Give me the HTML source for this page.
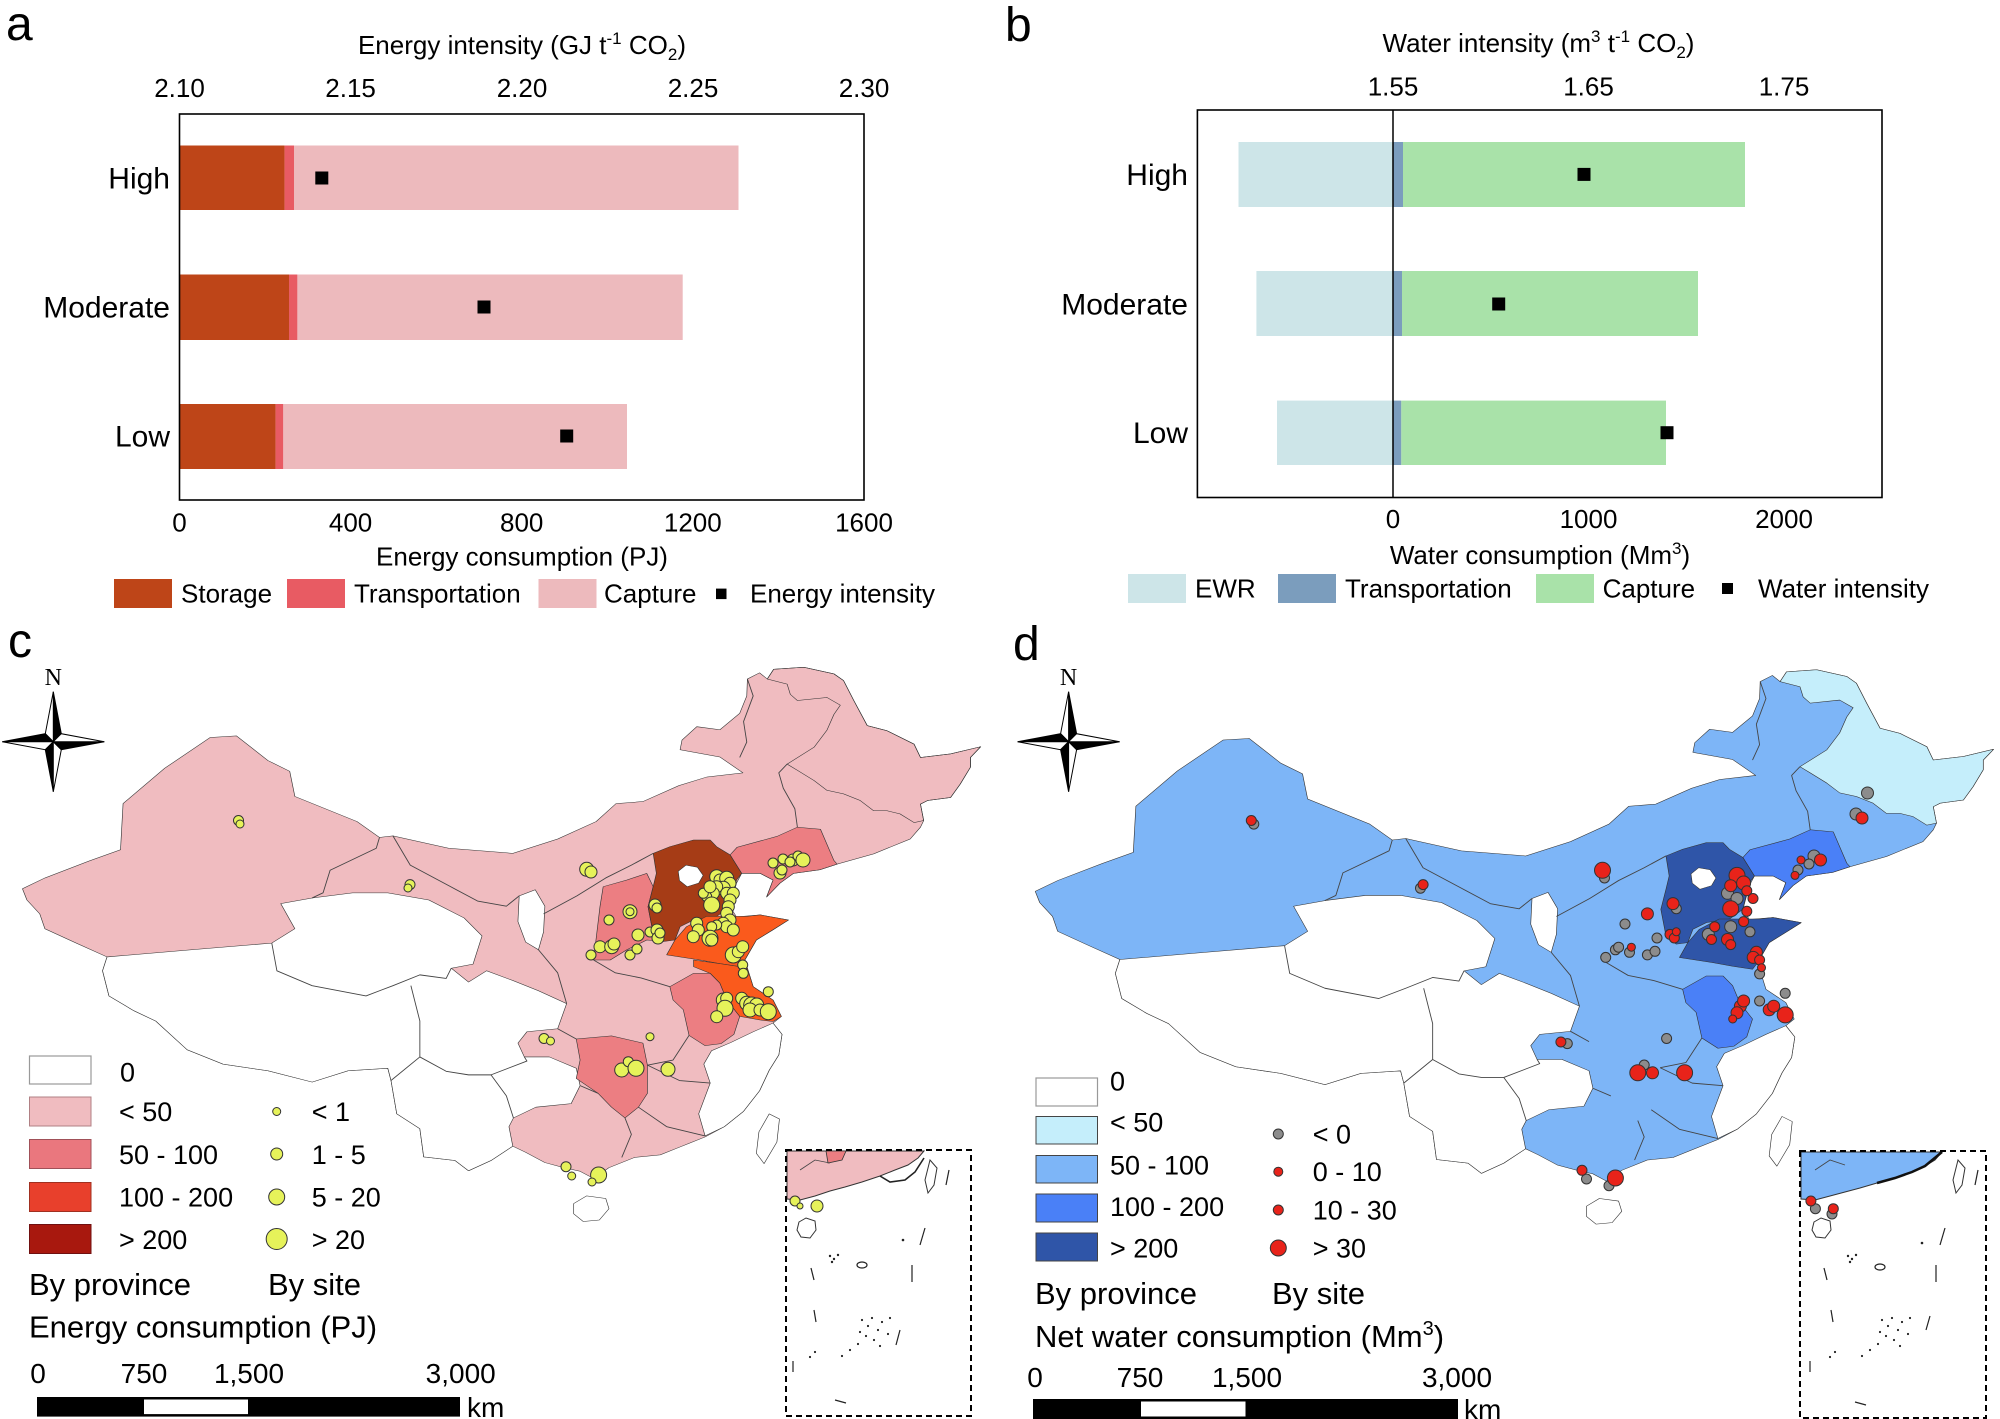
<!DOCTYPE html>
<html><head><meta charset="utf-8"><style>
html,body{margin:0;padding:0;background:#fff;}
svg{display:block;font-family:"Liberation Sans",Arial,sans-serif;}
</style></head><body>
<svg width="2000" height="1419" viewBox="0 0 2000 1419" xmlns="http://www.w3.org/2000/svg">
<rect width="2000" height="1419" fill="#fff"/>
<!-- ================= PANEL A ================= -->
<text x="6" y="40" font-size="48">a</text>
<text x="522" y="54" font-size="26" text-anchor="middle">Energy intensity (GJ t<tspan dy="-10" font-size="17">-1</tspan><tspan dy="10"> CO</tspan><tspan dy="6" font-size="17">2</tspan><tspan dy="-6">)</tspan></text>
<g font-size="26" text-anchor="middle">
<text x="179.5" y="97">2.10</text><text x="350.6" y="97">2.15</text><text x="522" y="97">2.20</text><text x="693" y="97">2.25</text><text x="864" y="97">2.30</text>
<text x="179.5" y="531.5">0</text><text x="350.6" y="531.5">400</text><text x="521.7" y="531.5">800</text><text x="692.8" y="531.5">1200</text><text x="864" y="531.5">1600</text>
<text x="522" y="565.5">Energy consumption (PJ)</text>
</g>
<rect x="179.5" y="145.5" width="105.1" height="64.5" fill="#BE4518"/>
<rect x="284.6" y="145.5" width="9.4" height="64.5" fill="#E85B63"/>
<rect x="294" y="145.5" width="444.5" height="64.5" fill="#EDBABD"/>
<rect x="179.5" y="274.5" width="109.5" height="65.5" fill="#BE4518"/>
<rect x="289" y="274.5" width="8.4" height="65.5" fill="#E85B63"/>
<rect x="297.4" y="274.5" width="385.3" height="65.5" fill="#EDBABD"/>
<rect x="179.5" y="404" width="96.1" height="65" fill="#BE4518"/>
<rect x="275.6" y="404" width="7.7" height="65" fill="#E85B63"/>
<rect x="283.3" y="404" width="343.7" height="65" fill="#EDBABD"/>
<rect x="315.3" y="171.5" width="13" height="13" fill="#000"/>
<rect x="477.5" y="300.5" width="13" height="13" fill="#000"/>
<rect x="560.2" y="429.5" width="13" height="13" fill="#000"/>
<rect x="179.5" y="114" width="684.5" height="386" fill="none" stroke="#000" stroke-width="1.6"/>
<g font-size="30" text-anchor="end">
<text x="170" y="188.5">High</text><text x="170" y="317.5">Moderate</text><text x="170" y="446.5">Low</text>
</g>
<g font-size="26">
<rect x="114" y="579" width="58" height="29" fill="#BE4518"/><text x="181" y="602.6">Storage</text>
<rect x="287" y="579" width="58" height="29" fill="#E85B63"/><text x="354" y="602.6">Transportation</text>
<rect x="538.5" y="579" width="58" height="29" fill="#EDBABD"/><text x="604" y="602.6">Capture</text>
<rect x="716" y="588.6" width="10.5" height="10.5" fill="#000"/><text x="750" y="602.6">Energy intensity</text>
</g>

<!-- ================= PANEL B ================= -->
<text x="1005" y="41" font-size="48">b</text>
<text x="1538.5" y="52" font-size="26" text-anchor="middle">Water intensity (m<tspan dy="-10" font-size="17">3</tspan><tspan dy="10"> t</tspan><tspan dy="-10" font-size="17">-1</tspan><tspan dy="10"> CO</tspan><tspan dy="6" font-size="17">2</tspan><tspan dy="-6">)</tspan></text>
<g font-size="26" text-anchor="middle">
<text x="1393" y="95.5">1.55</text><text x="1588.5" y="95.5">1.65</text><text x="1784" y="95.5">1.75</text>
<text x="1393" y="528">0</text><text x="1588.5" y="528">1000</text><text x="1784" y="528">2000</text>
<text x="1540" y="564">Water consumption (Mm<tspan dy="-10" font-size="17">3</tspan><tspan dy="10">)</tspan></text>
</g>
<rect x="1238.5" y="142" width="154.5" height="65" fill="#CDE5E8"/>
<rect x="1393" y="142" width="10" height="65" fill="#7B9DBD"/>
<rect x="1403" y="142" width="342" height="65" fill="#A9E2A9"/>
<rect x="1256.4" y="271" width="136.6" height="65" fill="#CDE5E8"/>
<rect x="1393" y="271" width="9" height="65" fill="#7B9DBD"/>
<rect x="1402" y="271" width="296" height="65" fill="#A9E2A9"/>
<rect x="1277" y="400.6" width="116" height="64.4" fill="#CDE5E8"/>
<rect x="1393" y="400.6" width="8.3" height="64.4" fill="#7B9DBD"/>
<rect x="1401.3" y="400.6" width="264.7" height="64.4" fill="#A9E2A9"/>
<rect x="1577.5" y="167.9" width="13" height="13" fill="#000"/>
<rect x="1492.2" y="297.5" width="13" height="13" fill="#000"/>
<rect x="1660.5" y="426.2" width="13" height="13" fill="#000"/>
<line x1="1393" y1="110" x2="1393" y2="497.5" stroke="#000" stroke-width="1.5"/>
<rect x="1197.4" y="110" width="684.6" height="387.5" fill="none" stroke="#000" stroke-width="1.6"/>
<g font-size="30" text-anchor="end">
<text x="1188" y="185">High</text><text x="1188" y="314.5">Moderate</text><text x="1188" y="443">Low</text>
</g>
<g font-size="26">
<rect x="1128" y="574" width="58" height="29" fill="#CDE5E8"/><text x="1195" y="597.5">EWR</text>
<rect x="1278" y="574" width="58" height="29" fill="#7B9DBD"/><text x="1345" y="597.5">Transportation</text>
<rect x="1536" y="574" width="58" height="29" fill="#A9E2A9"/><text x="1602.6" y="597.5">Capture</text>
<rect x="1722" y="583" width="11" height="11" fill="#000"/><text x="1758" y="597.5">Water intensity</text>
</g>

<!-- ================= MAP DEFINITIONS ================= -->
<defs>
<path id="outer" d="M35,526 L70,505 L139,472 L188,450 L192,360 L257,291 L328,231 L369,228 L418,276 L452,297 L460,346 L557,395 L592,426 L613,423 L700,447 L800,457 L870,429 L930,395 L961,360 L1003,356 L1059,325 L1103,308 L1159,300 L1123,269 L1061,255 L1064,236 L1087,210 L1123,216 L1154,184 L1165,150 L1166,117 L1185,105 L1197,117 L1207,98 L1254,94 L1301,107 L1316,120 L1332,159 L1353,208 L1384,218 L1426,244 L1436,270 L1483,263 L1530,249 L1514,270 L1514,289 L1498,322 L1483,348 L1447,354 L1436,361 L1441,393 L1436,406 L1420,429 L1363,458 L1306,478 L1279,489 L1238,496 L1217,515 L1196,542 L1206,509 L1186,496 L1157,496 L1149,515 L1139,561 L1149,581 L1186,577 L1230,587 L1206,606 L1180,626 L1162,665 L1175,717 L1206,743 L1219,775 L1206,788 L1220,810 L1215,850 L1200,880 L1185,920 L1160,960 L1130,990 L1100,1010 L1060,1030 L1030,1045 L990,1050 L950,1070 L926,1091 L905,1077 L880,1070 L850,1060 L820,1040 L800,1028 L766,1056 L731,1076 L710,1056 L661,1049 L655,994 L619,965 L610,900 L605,876 L543,881 L487,903 L418,881 L348,868 L292,840 L243,784 L209,764 L170,735 L160,686 L167,659 L119,632 L70,604 L62,575 L42,548 Z"/>
<path id="whiteSW" d="M160,686 L167,659 L299,645 L424,632 L460,604 L438,555 L487,544 L550,534 L605,534 L669,548 L724,583 L752,618 L738,673 L704,681 L731,708 L759,686 L800,705 L840,725 L884,750 L870,799 L822,805 L808,827 L818,854 L857,854 L899,876 L905,910 L891,945 L836,952 L801,973 L794,990 L800,1028 L766,1056 L731,1076 L710,1056 L661,1049 L655,994 L619,965 L610,900 L605,876 L543,881 L487,903 L418,881 L348,868 L292,840 L243,784 L209,764 L170,735 Z"/>
<path id="whiteSE" d="M1110,842 L1140,826 L1175,805 L1206,788 L1220,810 L1215,850 L1200,880 L1185,920 L1160,960 L1130,990 L1100,1008 L1090,965 L1108,905 L1098,868 Z"/>
<path id="ningxia" d="M810,540 L835,528 L850,560 L848,610 L840,645 L820,630 L808,590 Z"/>
<path id="beijing" d="M1058,492 L1070,480 L1088,484 L1097,500 L1090,515 L1072,522 L1060,510 Z"/>
<path id="hainan" d="M895,1140 L915,1125 L945,1130 L950,1150 L935,1172 L910,1175 L895,1160 Z"/>
<path id="taiwan" d="M1200,965 L1216,975 L1212,1020 L1192,1062 L1180,1042 L1184,1000 Z"/>
<path id="hebei" d="M1019,457 L1045,444 L1082,431 L1108,431 L1118,444 L1139,460 L1157,496 L1149,509 L1144,535 L1139,561 L1118,580 L1082,587 L1061,600 L1053,626 L1035,629 L1019,613 L1011,561 L1019,522 L1024,496 Z"/>
<path id="shanxi" d="M1009,496 L978,509 L941,522 L936,561 L931,613 L926,665 L952,665 L978,645 L1009,626 L1035,629 L1019,613 L1011,561 L1019,522 Z"/>
<path id="shandong" d="M1053,626 L1071,600 L1102,580 L1165,580 L1186,577 L1230,587 L1206,606 L1180,626 L1162,665 L1154,678 L1123,672 L1092,665 L1040,655 Z"/>
<path id="jiangsu" d="M1082,665 L1123,672 L1154,678 L1162,665 L1175,717 L1206,743 L1219,775 L1206,785 L1186,782 L1154,775 L1134,743 L1123,710 L1108,691 L1082,678 Z"/>
<path id="anhui" d="M1045,717 L1082,691 L1108,691 L1123,710 L1134,743 L1154,775 L1145,810 L1125,828 L1100,832 L1075,812 L1066,762 L1050,743 Z"/>
<path id="liaoning" d="M1139,460 L1150,445 L1212,424 L1244,406 L1280,410 L1301,471 L1306,478 L1279,489 L1238,496 L1217,515 L1196,542 L1206,509 L1186,496 L1157,496 Z"/>
<path id="hunan" d="M899,819 L954,813 L1003,827 L1010,870 L1010,925 L996,952 L975,973 L954,952 L933,925 L899,896 L905,860 Z"/>
<path id="heilong" d="M1197,117 L1207,98 L1254,94 L1301,107 L1316,120 L1332,159 L1353,208 L1384,218 L1426,244 L1436,270 L1483,263 L1530,249 L1514,270 L1514,289 L1498,322 L1483,348 L1447,354 L1436,361 L1441,393 L1426,397 L1404,380 L1384,374 L1363,374 L1342,354 L1316,341 L1290,334 L1270,315 L1244,295 L1228,283 L1270,250 L1290,217 L1301,186 L1311,168 L1290,153 L1244,159 L1233,147 L1228,127 Z"/>
<g id="lines" fill="none" stroke="#444" stroke-width="0.9">
<polyline vector-effect="non-scaling-stroke" points="592,426 587,447 515,490 504,534 487,544"/>
<polyline vector-effect="non-scaling-stroke" points="613,423 640,480 700,520 745,550 790,560 810,540"/>
<polyline vector-effect="non-scaling-stroke" points="848,575 900,540 945,505 985,480 1019,457"/>
<polyline vector-effect="non-scaling-stroke" points="840,645 870,690 884,750"/>
<polyline vector-effect="non-scaling-stroke" points="926,665 960,690 1000,700 1045,717"/>
<polyline vector-effect="non-scaling-stroke" points="870,799 899,819"/>
<polyline vector-effect="non-scaling-stroke" points="1166,117 1175,150 1160,200 1165,240 1154,270"/>
<polyline vector-effect="non-scaling-stroke" points="1228,283 1215,300 1222,330 1240,370 1244,406"/>
<polyline vector-effect="non-scaling-stroke" points="1010,870 1050,860 1075,812"/>
<polyline vector-effect="non-scaling-stroke" points="975,973 985,1005 970,1050"/>
<polyline vector-effect="non-scaling-stroke" points="996,952 1040,990 1100,1008"/>
<polyline vector-effect="non-scaling-stroke" points="905,910 933,925"/>
<polyline vector-effect="non-scaling-stroke" points="424,632 432,686 487,715 571,735 613,715 655,694 696,701 704,681"/>
<polyline vector-effect="non-scaling-stroke" points="641,715 655,784 655,854 610,900"/>
<polyline vector-effect="non-scaling-stroke" points="655,854 696,882 731,889 766,889 822,862 818,854"/>
<polyline vector-effect="non-scaling-stroke" points="766,889 790,930 801,973"/>
<polyline vector-effect="non-scaling-stroke" points="1108,905 1060,900 1010,870"/>
</g>
</defs>

<!-- ================= MAP C ================= -->
<text x="8" y="657" font-size="48">c</text>
<g transform="translate(0,619) scale(0.641,0.5128)" stroke="#333" stroke-width="1" stroke-linejoin="round">
<use href="#outer" fill="#F0BCC0"/>
<g fill="#fff" stroke="#333">
<use href="#whiteSW"/><use href="#whiteSE"/><use href="#ningxia"/><use href="#hainan"/><use href="#taiwan"/>
</g>
<use href="#shanxi" fill="#EC7E82"/>
<use href="#liaoning" fill="#EC7E82"/>
<use href="#anhui" fill="#EC7E82"/>
<use href="#hunan" fill="#EC7E82"/>
<use href="#hebei" fill="#A63C16"/>
<use href="#shandong" fill="#FA5A1C"/>
<use href="#jiangsu" fill="#FA5A1C"/>
<use href="#beijing" fill="#fff"/>
<use href="#heilong" fill="none"/>
<use href="#lines"/>
</g>
<g transform="translate(53.3,741.7)" stroke="#000" stroke-width="1">
<polygon points="0,-50 8,-8 0,0" fill="#000"/><polygon points="0,-50 -8,-8 0,0" fill="#fff"/>
<polygon points="-51,0 -8,-8 0,0" fill="#000"/><polygon points="-51,0 -8,8 0,0" fill="#fff"/>
<polygon points="0,50 -8,8 0,0" fill="#000"/><polygon points="0,50 8,8 0,0" fill="#fff"/>
<polygon points="51,0 8,8 0,0" fill="#000"/><polygon points="51,0 8,-8 0,0" fill="#fff"/>
</g>
<text x="53.3" y="685" font-size="24" text-anchor="middle" font-family="Liberation Serif,serif">N</text>
<g fill="#E6F25A" stroke="#333" stroke-width="1">
<circle cx="238.5" cy="820.5" r="5"/><circle cx="240" cy="824" r="4"/>
<circle cx="410" cy="884.6" r="5"/><circle cx="408" cy="888" r="4"/>
<circle cx="586.7" cy="869.3" r="7"/><circle cx="591" cy="872" r="6"/>
<circle cx="630" cy="911.7" r="7"/><circle cx="630" cy="911.7" r="4"/>
<circle cx="609" cy="920" r="5"/>
<circle cx="600" cy="946.7" r="6"/><circle cx="611.7" cy="946.7" r="7"/><circle cx="614" cy="944" r="6"/>
<circle cx="591" cy="955" r="5"/><circle cx="630" cy="955" r="5"/><circle cx="637" cy="949" r="5"/>
<circle cx="638" cy="935" r="6"/><circle cx="655" cy="905" r="6"/><circle cx="657" cy="908" r="5"/>
<circle cx="650" cy="932" r="5"/><circle cx="657" cy="930" r="6"/><circle cx="658" cy="938" r="6"/><circle cx="660" cy="933" r="5"/>
<circle cx="773" cy="863" r="5"/><circle cx="783" cy="859" r="5"/><circle cx="793" cy="860" r="6"/><circle cx="798" cy="856" r="5"/><circle cx="803" cy="860" r="7"/><circle cx="790" cy="862" r="5"/><circle cx="780" cy="873" r="6"/><circle cx="782" cy="870" r="5"/>
<circle cx="716.7" cy="876.7" r="7"/><circle cx="720" cy="880" r="6"/><circle cx="726.7" cy="878.3" r="7"/><circle cx="730" cy="883.3" r="6"/><circle cx="723.3" cy="888.3" r="7"/><circle cx="716.7" cy="886.7" r="6"/><circle cx="713.3" cy="893.3" r="6"/><circle cx="706.7" cy="896.7" r="5"/><circle cx="703.3" cy="893.3" r="5"/><circle cx="710" cy="886.7" r="6"/><circle cx="726.7" cy="893.3" r="6"/><circle cx="733.3" cy="893.3" r="6"/><circle cx="730" cy="900" r="6"/><circle cx="711.7" cy="905" r="8"/><circle cx="728.3" cy="906.7" r="6"/>
<circle cx="726.7" cy="913.3" r="6"/><circle cx="730" cy="920" r="6"/><circle cx="723.3" cy="923.3" r="6"/><circle cx="726.7" cy="926.7" r="6"/><circle cx="733.3" cy="930" r="6"/><circle cx="716.7" cy="925" r="5"/><circle cx="711.7" cy="926.7" r="5"/><circle cx="696.7" cy="923.3" r="6"/><circle cx="698.3" cy="930" r="6"/><circle cx="693.3" cy="936.7" r="6"/><circle cx="710" cy="938.3" r="8"/><circle cx="711.7" cy="940" r="6"/>
<circle cx="733.3" cy="955" r="8"/><circle cx="738.3" cy="951.7" r="6"/><circle cx="742.7" cy="946.7" r="6"/>
<circle cx="742.7" cy="965" r="5"/><circle cx="743.3" cy="973.3" r="5"/><circle cx="768.3" cy="991.7" r="5"/>
<circle cx="723.3" cy="1000" r="7"/><circle cx="726.7" cy="998.3" r="6"/><circle cx="725" cy="1008.3" r="8"/><circle cx="716.7" cy="1016.7" r="6"/><circle cx="741.7" cy="998.3" r="6"/><circle cx="746.7" cy="1003.3" r="7"/><circle cx="751.7" cy="1005" r="8"/><circle cx="756.7" cy="1005" r="7"/><circle cx="750" cy="1010" r="7"/><circle cx="760" cy="1010" r="6"/><circle cx="768.3" cy="1011.7" r="8"/>
<circle cx="650" cy="1036.7" r="4"/>
<circle cx="621.7" cy="1070" r="7"/><circle cx="628.3" cy="1061.7" r="5"/><circle cx="636" cy="1068.3" r="8"/><circle cx="668" cy="1069.3" r="7"/>
<circle cx="544" cy="1038.5" r="5"/><circle cx="550.5" cy="1041" r="4"/>
<circle cx="566" cy="1166.7" r="5"/><circle cx="571.7" cy="1176" r="4"/><circle cx="598.6" cy="1175" r="8"/><circle cx="592" cy="1182" r="4"/>
</g>
<!-- inset c -->
<g>
<polygon points="787,1151 924,1151 918,1158 908,1165 895,1170 880,1176 862,1182 845,1187 830,1191 815,1196 800,1200 787,1199" fill="#F0BCC0" stroke="#333" stroke-width="1"/>
<polygon points="826,1151 846,1151 842,1160 828,1163" fill="#EC7E82" stroke="#333" stroke-width="0.8"/>
<polyline points="800,1170 815,1160 830,1163" fill="none" stroke="#444" stroke-width="0.8"/>
<polyline points="880,1176 890,1182 905,1180 915,1172 924,1158" fill="none" stroke="#222" stroke-width="1.6"/>
<path d="M799,1222 L806,1218 L815,1221 L816,1230 L810,1238 L801,1237 L797,1230 Z" fill="#fff" stroke="#333" stroke-width="1"/>
<path d="M930,1160 L937,1168 L934,1185 L928,1193 L925,1180 Z" fill="#fff" stroke="#333" stroke-width="1"/>
<g fill="#E6F25A" stroke="#333" stroke-width="1"><circle cx="795" cy="1201" r="5"/><circle cx="800" cy="1206" r="3"/><circle cx="817" cy="1206" r="6"/></g>
<g stroke="#222" stroke-width="1.2" fill="none">
<line x1="949" y1="1170" x2="946" y2="1185"/><line x1="925" y1="1228" x2="920" y2="1245"/><line x1="912" y1="1265" x2="912" y2="1282"/>
<line x1="811" y1="1268" x2="814" y2="1280"/><line x1="814" y1="1310" x2="816" y2="1322"/><line x1="793" y1="1361" x2="793" y2="1372"/>
<line x1="835" y1="1400" x2="846" y2="1403"/><line x1="900" y1="1330" x2="896" y2="1345"/>
<ellipse cx="862" cy="1265" rx="5" ry="3"/>
</g>
<g fill="#222">
<circle cx="830" cy="1256" r="1.2"/><circle cx="834" cy="1259" r="1.2"/><circle cx="838" cy="1255" r="1.2"/><circle cx="832" cy="1262" r="1.2"/>
<circle cx="862" cy="1320" r="1.1"/><circle cx="868" cy="1326" r="1.1"/><circle cx="872" cy="1318" r="1.1"/><circle cx="878" cy="1330" r="1.1"/><circle cx="882" cy="1322" r="1.1"/><circle cx="888" cy="1334" r="1.1"/><circle cx="866" cy="1336" r="1.1"/><circle cx="874" cy="1340" r="1.1"/><circle cx="858" cy="1344" r="1.1"/><circle cx="850" cy="1350" r="1.1"/><circle cx="842" cy="1356" r="1.1"/><circle cx="890" cy="1318" r="1.1"/><circle cx="860" cy="1332" r="1.1"/><circle cx="880" cy="1346" r="1.1"/><circle cx="810" cy="1357" r="1.1"/><circle cx="815" cy="1352" r="1.1"/><circle cx="903" cy="1240" r="1.3"/>
</g>
<rect x="786" y="1150" width="185" height="266" fill="none" stroke="#000" stroke-width="2" stroke-dasharray="6,4"/>
</g>
<g font-size="27">
<rect x="29.5" y="1056" width="61.5" height="28" fill="#fff" stroke="#999" stroke-width="1.2"/><text x="120" y="1081.5">0</text>
<rect x="29.5" y="1097" width="61.5" height="29" fill="#F0BCC0" stroke="#B08084" stroke-width="1"/><text x="119" y="1121">&lt; 50</text>
<rect x="29.5" y="1139.5" width="61.5" height="29" fill="#EA777E" stroke="#A05058" stroke-width="1"/><text x="119" y="1164">50 - 100</text>
<rect x="29.5" y="1182.5" width="61.5" height="29" fill="#E8402C" stroke="#A03020" stroke-width="1"/><text x="119" y="1206.5">100 - 200</text>
<rect x="29.5" y="1224.5" width="61.5" height="29" fill="#A8180E" stroke="#701010" stroke-width="1"/><text x="119" y="1249">&gt; 200</text>
<g fill="#E6F25A" stroke="#333" stroke-width="1"><circle cx="276.7" cy="1111.5" r="4"/><circle cx="276.7" cy="1154" r="6"/><circle cx="276.7" cy="1197" r="8"/><circle cx="276.7" cy="1239" r="10.5"/></g>
<text x="311.7" y="1121">&lt; 1</text><text x="311.7" y="1164">1 - 5</text><text x="311.7" y="1206.5">5 - 20</text><text x="311.7" y="1249">&gt; 20</text>
</g>
<g font-size="31"><text x="29" y="1295">By province</text><text x="268" y="1295">By site</text><text x="29" y="1337.5">Energy consumption (PJ)</text></g>
<g font-size="28" text-anchor="middle"><text x="38" y="1383">0</text><text x="144" y="1383">750</text><text x="249" y="1383">1,500</text><text x="460.7" y="1383">3,000</text></g>
<rect x="37" y="1397" width="423" height="19.6" fill="#000"/><rect x="144" y="1399.5" width="104" height="14.6" fill="#fff"/>
<text x="467" y="1417" font-size="28">km</text>

<!-- ================= MAP D ================= -->
<text x="1013" y="660" font-size="48">d</text>
<g transform="translate(1012.8,621.6) scale(0.641,0.5128)" stroke="#333" stroke-width="1" stroke-linejoin="round">
<use href="#outer" fill="#7DB5F7"/>
<g fill="#fff" stroke="#333">
<use href="#whiteSW"/><use href="#whiteSE"/><use href="#ningxia"/><use href="#hainan"/><use href="#taiwan"/>
</g>
<use href="#heilong" fill="#C5EEFB"/>
<use href="#liaoning" fill="#4A80F7"/>
<use href="#anhui" fill="#4A80F7"/>
<use href="#hebei" fill="#2F55A8"/>
<use href="#shandong" fill="#2F55A8"/>
<use href="#beijing" fill="#fff"/>
<use href="#lines"/>
</g>
<g transform="translate(1068.6,741.7)" stroke="#000" stroke-width="1">
<polygon points="0,-50 8,-8 0,0" fill="#000"/><polygon points="0,-50 -8,-8 0,0" fill="#fff"/>
<polygon points="-51,0 -8,-8 0,0" fill="#000"/><polygon points="-51,0 -8,8 0,0" fill="#fff"/>
<polygon points="0,50 -8,8 0,0" fill="#000"/><polygon points="0,50 8,8 0,0" fill="#fff"/>
<polygon points="51,0 8,8 0,0" fill="#000"/><polygon points="51,0 8,-8 0,0" fill="#fff"/>
</g>
<text x="1068.6" y="685" font-size="24" text-anchor="middle" font-family="Liberation Serif,serif">N</text>
<g stroke="#333" stroke-width="1">
<g fill="#8C8C8C">
<circle cx="1253.8" cy="824.1" r="5"/><circle cx="1420.5" cy="888.2" r="5"/><circle cx="1604.5" cy="878" r="5"/>
<circle cx="1867.5" cy="793" r="6"/><circle cx="1856" cy="814" r="6"/>
<circle cx="1814" cy="856" r="6"/><circle cx="1809" cy="864" r="5"/><circle cx="1798" cy="870" r="5"/>
<circle cx="1727.5" cy="893.3" r="6"/><circle cx="1737" cy="898.5" r="6"/><circle cx="1730.7" cy="926.7" r="6"/><circle cx="1750" cy="931.8" r="5"/><circle cx="1708.3" cy="934.4" r="6"/>
<circle cx="1676.3" cy="908.7" r="5"/><circle cx="1625" cy="924" r="5"/><circle cx="1657" cy="938" r="5"/>
<circle cx="1615.4" cy="949.8" r="5"/><circle cx="1618.6" cy="947.2" r="5"/><circle cx="1629.5" cy="952.3" r="5"/><circle cx="1647.4" cy="954.9" r="5"/><circle cx="1655" cy="951.3" r="5"/><circle cx="1605.7" cy="957.4" r="5"/>
<circle cx="1759.6" cy="973.9" r="5"/><circle cx="1759.6" cy="1001" r="5"/><circle cx="1785.2" cy="993.3" r="5"/>
<circle cx="1567.3" cy="1043.6" r="5"/><circle cx="1666.6" cy="1038.5" r="5"/><circle cx="1644.2" cy="1065" r="5"/>
<circle cx="1586.5" cy="1179" r="5"/><circle cx="1609" cy="1185.7" r="5"/>
</g>
<g fill="#E8231A">
<circle cx="1251.3" cy="820.5" r="5"/><circle cx="1423.1" cy="884.6" r="5"/><circle cx="1602.5" cy="870.3" r="8"/>
<circle cx="1862" cy="818" r="6"/><circle cx="1820.5" cy="860" r="6"/><circle cx="1801" cy="860" r="4"/><circle cx="1795" cy="875.4" r="4"/>
<circle cx="1737" cy="875.4" r="8"/><circle cx="1743.6" cy="883" r="7"/><circle cx="1730.7" cy="885.7" r="6"/><circle cx="1746.8" cy="890.8" r="5"/><circle cx="1753" cy="898.5" r="5"/>
<circle cx="1730.7" cy="908.7" r="8"/><circle cx="1746.8" cy="911.3" r="5"/><circle cx="1743.6" cy="921.6" r="5"/><circle cx="1714.7" cy="926.7" r="5"/><circle cx="1711.5" cy="939.5" r="5"/><circle cx="1727.5" cy="939.5" r="6"/><circle cx="1730.7" cy="944.6" r="5"/>
<circle cx="1673" cy="903.6" r="6"/><circle cx="1647.4" cy="913.9" r="6"/><circle cx="1670" cy="934.4" r="5"/><circle cx="1674.3" cy="938" r="5"/><circle cx="1676.3" cy="931.8" r="4"/><circle cx="1631.4" cy="947.2" r="4"/>
<circle cx="1756.4" cy="952.3" r="6"/><circle cx="1753.2" cy="957.4" r="6"/><circle cx="1759.6" cy="960" r="5"/><circle cx="1761.5" cy="967.7" r="4"/>
<circle cx="1740.4" cy="1006.2" r="6"/><circle cx="1743.6" cy="1001" r="6"/><circle cx="1737" cy="1012.8" r="6"/><circle cx="1732.7" cy="1019" r="4"/>
<circle cx="1769.2" cy="1009.8" r="6"/><circle cx="1773.7" cy="1006.2" r="6"/><circle cx="1785.2" cy="1014.9" r="8"/>
<circle cx="1560.9" cy="1042" r="5"/>
<circle cx="1637.8" cy="1072.8" r="8"/><circle cx="1652.5" cy="1072.8" r="6"/><circle cx="1684.6" cy="1072.8" r="8"/>
<circle cx="1582" cy="1170.3" r="5"/><circle cx="1615.4" cy="1178" r="8"/>
</g>
</g>
<!-- inset d -->
<g>
<polygon points="1801,1152 1942,1152 1935,1160 1925,1166 1912,1172 1895,1178 1877,1183 1860,1188 1845,1192 1830,1196 1815,1200 1801,1199" fill="#7DB5F7" stroke="#333" stroke-width="1"/>
<polyline points="1877,1183 1895,1178 1912,1172 1925,1166 1942,1152" fill="none" stroke="#111" stroke-width="2.5"/>
<polyline points="1815,1170 1830,1160 1845,1165" fill="none" stroke="#444" stroke-width="0.8"/>
<path d="M814,1222 L821,1218 L830,1221 L831,1230 L825,1238 L816,1237 L812,1230 Z" transform="translate(1000,0)" fill="#fff" stroke="#333" stroke-width="1"/>
<path d="M1958,1160 L1965,1168 L1962,1185 L1956,1193 L1953,1180 Z" fill="#fff" stroke="#333" stroke-width="1"/>
<g stroke="#333" stroke-width="1"><circle cx="1815.4" cy="1208.7" r="5" fill="#8C8C8C"/><circle cx="1810.9" cy="1201" r="5" fill="#E8231A"/><circle cx="1832" cy="1214" r="5" fill="#8C8C8C"/><circle cx="1833.3" cy="1208.7" r="5" fill="#E8231A"/></g>
<g stroke="#222" stroke-width="1.2" fill="none">
<line x1="1978" y1="1170" x2="1975" y2="1185"/><line x1="1945" y1="1228" x2="1940" y2="1245"/><line x1="1936" y1="1265" x2="1936" y2="1282"/>
<line x1="1824" y1="1268" x2="1827" y2="1280"/><line x1="1831" y1="1310" x2="1833" y2="1322"/><line x1="1810" y1="1361" x2="1810" y2="1372"/>
<line x1="1855" y1="1402" x2="1866" y2="1405"/><line x1="1930" y1="1316" x2="1926" y2="1330"/>
<ellipse cx="1880" cy="1267" rx="5" ry="3"/>
</g>
<g fill="#222">
<circle cx="1848" cy="1256" r="1.2"/><circle cx="1852" cy="1259" r="1.2"/><circle cx="1856" cy="1255" r="1.2"/><circle cx="1850" cy="1262" r="1.2"/>
<circle cx="1882" cy="1320" r="1.1"/><circle cx="1888" cy="1326" r="1.1"/><circle cx="1892" cy="1318" r="1.1"/><circle cx="1898" cy="1330" r="1.1"/><circle cx="1902" cy="1322" r="1.1"/><circle cx="1908" cy="1334" r="1.1"/><circle cx="1886" cy="1336" r="1.1"/><circle cx="1894" cy="1340" r="1.1"/><circle cx="1878" cy="1344" r="1.1"/><circle cx="1870" cy="1350" r="1.1"/><circle cx="1862" cy="1356" r="1.1"/><circle cx="1910" cy="1318" r="1.1"/><circle cx="1880" cy="1332" r="1.1"/><circle cx="1900" cy="1346" r="1.1"/><circle cx="1830" cy="1357" r="1.1"/><circle cx="1835" cy="1352" r="1.1"/><circle cx="1922" cy="1243" r="1.3"/>
</g>
<rect x="1800" y="1151" width="186" height="267" fill="none" stroke="#000" stroke-width="2" stroke-dasharray="6,4"/>
</g>
<g font-size="27">
<rect x="1036" y="1078" width="61.5" height="28" fill="#fff" stroke="#999" stroke-width="1.2"/><text x="1110" y="1090.5">0</text>
<rect x="1036" y="1116.5" width="61.5" height="27.5" fill="#C5EEFB" stroke="#444" stroke-width="1"/><text x="1110" y="1131.5">&lt; 50</text>
<rect x="1036" y="1155.5" width="61.5" height="27.5" fill="#7DB5F7" stroke="#444" stroke-width="1"/><text x="1110" y="1174.5">50 - 100</text>
<rect x="1036" y="1194" width="61.5" height="28" fill="#4A80F7" stroke="#444" stroke-width="1"/><text x="1110" y="1216">100 - 200</text>
<rect x="1036" y="1233" width="61.5" height="28" fill="#2F55A8" stroke="#444" stroke-width="1"/><text x="1110" y="1257.5">&gt; 200</text>
<g stroke="#333" stroke-width="1"><circle cx="1278.3" cy="1134" r="5" fill="#8C8C8C"/><circle cx="1278.3" cy="1171.7" r="4.5" fill="#E8231A"/><circle cx="1278.3" cy="1210" r="5" fill="#E8231A"/><circle cx="1278.3" cy="1248" r="8" fill="#E8231A"/></g>
<text x="1312.7" y="1143.5">&lt; 0</text><text x="1312.7" y="1181">0 - 10</text><text x="1312.7" y="1219.5">10 - 30</text><text x="1312.7" y="1257.5">&gt; 30</text>
</g>
<g font-size="31"><text x="1035" y="1304">By province</text><text x="1272" y="1304">By site</text><text x="1035" y="1347">Net water consumption (Mm<tspan dy="-12" font-size="20">3</tspan><tspan dy="12">)</tspan></text></g>
<g font-size="28" text-anchor="middle"><text x="1035" y="1387">0</text><text x="1140" y="1387">750</text><text x="1247" y="1387">1,500</text><text x="1457" y="1387">3,000</text></g>
<rect x="1033" y="1399" width="425" height="20" fill="#000"/><rect x="1141" y="1401.5" width="104.5" height="15" fill="#fff"/>
<text x="1464" y="1419" font-size="28">km</text>
</svg>
</body></html>
